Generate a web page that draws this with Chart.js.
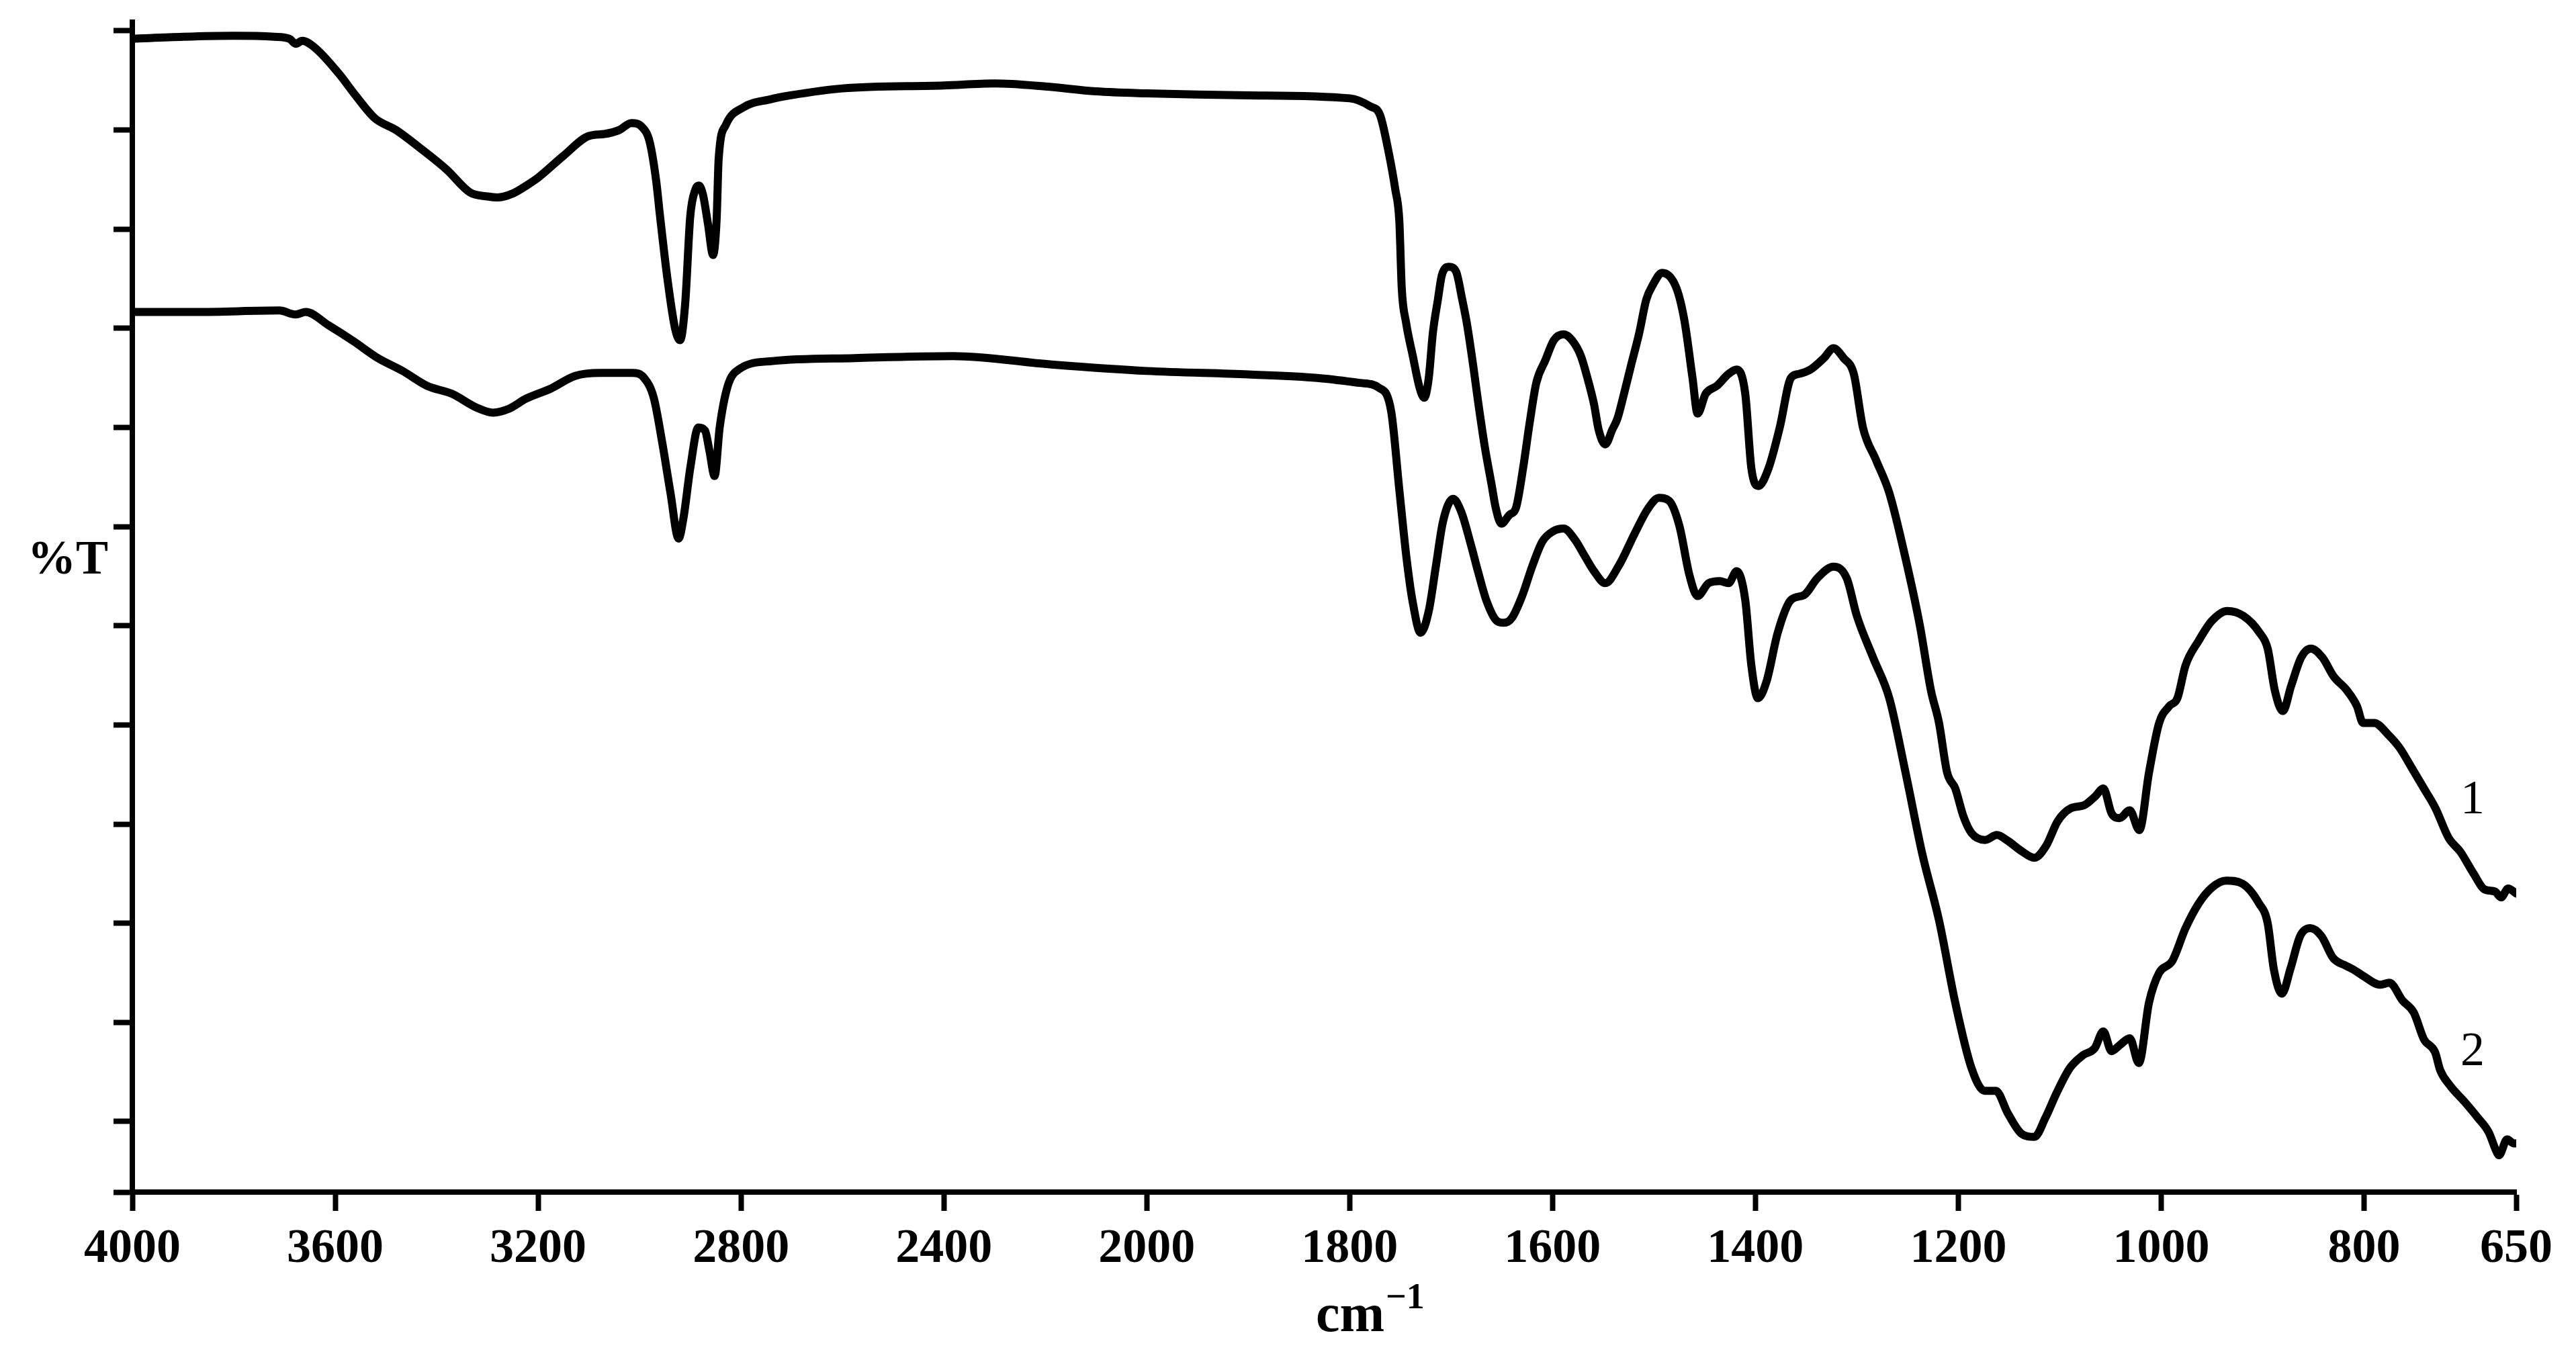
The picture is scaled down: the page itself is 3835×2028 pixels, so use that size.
<!DOCTYPE html>
<html>
<head>
<meta charset="utf-8">
<title>IR spectra</title>
<script src="https://cdn.jsdelivr.net/npm/chart.js@4.4.1/dist/chart.umd.min.js"></script>
<style>
  html, body { margin: 0; padding: 0; background: #fff; }
  #wrap { width: 3835px; height: 2028px; }
</style>
</head>
<body>
<div id="wrap"><canvas id="irChart" width="3835" height="2028"></canvas></div>
<script>
// wavenumber ticks (cm-1), axis is compressed 2x above 2000
const xTicks = [4000, 3600, 3200, 2800, 2400, 2000, 1800, 1600, 1400, 1200, 1000, 800, 650];
const yTicks = [10, 20, 30, 40, 50, 60, 70, 80, 90, 100, 110, 120];
const seriesNames = ['1', '2'];

// spectrum 1 (upper)
const wn1 = [4000, 3900, 3800, 3720, 3690, 3678, 3665, 3640, 3593, 3560, 3522, 3480, 3433, 3380, 3334, 3300, 3280, 3250, 3220, 3200,
  3150, 3100, 3069, 3040, 3016, 2995, 2980, 2967, 2960, 2945, 2930, 2920, 2910, 2900, 2890, 2883, 2875, 2865, 2855, 2848,
  2844, 2830, 2795, 2742, 2702, 2600, 2400, 2300, 2200, 2100, 2000, 1900, 1800, 1780, 1770, 1762, 1755, 1751, 1748.6, 1744.4,
  1737.7, 1731, 1726.5, 1722, 1718, 1713, 1709, 1702, 1695, 1689, 1684.6, 1678, 1673.5, 1667, 1660, 1656, 1650.5, 1642.4, 1636, 1629,
  1622.5, 1616, 1607, 1598.7, 1589, 1580.8, 1572, 1565.6, 1559, 1554.6, 1548, 1541, 1536, 1530, 1523, 1514.6, 1507.6, 1501, 1492, 1478,
  1470, 1462, 1457, 1449, 1438, 1426.5, 1418.5, 1410, 1404, 1397, 1387, 1376, 1365, 1357, 1345.6, 1332.5, 1323, 1313, 1303, 1294,
  1281, 1268, 1252, 1238, 1227, 1219, 1211, 1203, 1195, 1187, 1173.5, 1162, 1151, 1138, 1125, 1113.5, 1102, 1089, 1076, 1065,
  1057, 1049, 1041, 1031, 1021.5, 1012, 1002, 992, 984, 976, 963, 950, 935, 919, 903, 895, 888, 880, 872, 862,
  852.5, 841, 830, 817, 807, 801, 790, 776, 765, 752, 741, 729.6, 716.6, 705, 692, 681, 671, 665, 658, 650];
const t1 = [119.2, 119.4, 119.5, 119.4, 119.2, 118.7, 119.0, 118.3, 115.7, 113.5, 111.2, 110.0, 108.2, 106.0, 103.7, 103.3, 103.2, 103.6, 104.5, 105.2,
  107.4, 109.4, 109.6, 110.0, 110.7, 110.3, 108.8, 104.8, 101.5, 95, 90, 88.8, 92.5, 101.3, 104, 104.4, 103.5, 100.5, 97.4, 101,
  107.1, 110.5, 112.3, 113.1, 113.5, 114.2, 114.5, 114.7, 114.4, 113.9, 113.7, 113.5, 113.2, 112.4, 111.5, 108, 104, 100.8, 94, 90.6,
  87.2, 84, 83.0, 85, 89.5, 92.9, 95.4, 96.2, 95.7, 92.9, 90.6, 86.1, 82.7, 78.2, 74.2, 71.9, 70.3, 71.2, 71.9, 75.9,
  80.5, 84.5, 86.8, 88.8, 89.4, 88.8, 87.2, 85, 82.3, 79.8, 78.3, 79.8, 80.9, 83.2, 86.1, 89.5, 92.9, 94.4, 95.6, 94.1,
  90.8, 85.0, 81.4, 83.4, 84.2, 85.4, 85.85, 83.4, 75.9, 74.1, 75.9, 80, 85, 85.4, 85.85, 87, 88.0, 87.0, 85.4, 80,
  76.7, 73.4, 66.8, 60.1, 53.5, 50.2, 45.2, 43.6, 40.8, 39.1, 38.4, 38.9, 38.3, 37.3, 36.6, 37.8, 40.3, 41.6, 41.9, 42.8,
  43.6, 41.1, 40.6, 41.4, 39.4, 45.2, 50.2, 51.9, 52.7, 56.0, 58.5, 60.5, 61.5, 61.0, 59.3, 57.7, 53.5, 51.4, 53.9, 56.8,
  57.7, 56.8, 54.9, 53.5, 51.9, 50.2, 50.2, 49.0, 47.7, 45.5, 43.6, 41.6, 38.6, 37.2, 35.0, 33.4, 33.2, 32.6, 33.5, 33.0];

// spectrum 2 (lower)
const wn2 = [4000, 3872, 3710, 3678, 3658, 3613, 3564, 3516, 3467, 3419, 3370, 3321, 3289, 3257, 3224, 3176, 3127, 3078, 3014, 2991,
  2972, 2955, 2939, 2923, 2913, 2900, 2884, 2871, 2862, 2852, 2842, 2826, 2803, 2738, 2576, 2382, 2188, 2000, 1900, 1832,
  1790, 1771, 1759, 1751, 1744, 1738, 1730, 1722, 1715, 1708, 1698, 1690, 1680, 1673.5, 1665, 1655, 1648, 1640, 1630, 1620,
  1610, 1600, 1589, 1578, 1568, 1559, 1548, 1535, 1519, 1506, 1495, 1485, 1475, 1465, 1457, 1446, 1435, 1426.5, 1418.5, 1410,
  1404, 1397.5, 1389, 1378, 1365, 1352, 1339, 1323, 1310, 1300, 1284, 1268, 1252, 1235.5, 1219, 1203, 1187, 1174, 1163, 1151,
  1138, 1125, 1114, 1103, 1090, 1077, 1065.5, 1057, 1049, 1041, 1031, 1022, 1012, 1002, 989, 976, 963, 950, 936, 920,
  903.5, 895, 889, 881, 872.6, 863, 853, 842, 830.5, 817.6, 810, 801, 784, 775, 762, 751, 741, 730, 725, 715,
  701, 688, 677, 670, 667, 659, 652.3, 650];
const t2 = [91.65, 91.65, 91.8, 91.4, 91.65, 90.3, 88.7, 87.0, 85.7, 84.2, 83.4, 82.0, 81.5, 81.9, 82.9, 83.9, 85.2, 85.5, 85.5, 85.0,
  83.0, 78.4, 73.4, 68.8, 71.0, 75.9, 80.0, 79.7, 77.6, 75.1, 80.0, 84.2, 85.9, 86.7, 87.0, 87.2, 86.35, 85.7, 85.35, 85.0,
  84.5, 84.0, 81.6, 73.7, 66.9, 62.5, 59.3, 61.5, 66, 70.5, 72.8, 71.5, 68, 65.5, 62.5, 60.5, 60.3, 60.8, 63, 66,
  68.5, 69.5, 69.8, 68.7, 67, 65.5, 64.3, 66.0, 69.3, 71.8, 72.9, 72.6, 70.1, 65.1, 63.0, 64.3, 64.5, 64.3, 65.5, 62.6,
  56.0, 52.7, 54.4, 59.3, 62.6, 63.1, 64.8, 65.96, 64.8, 61.0, 56.8, 52.7, 45.2, 37.0, 30.3, 22.0, 15.4, 13.1, 13.1, 10.8,
  8.8, 8.45, 10.4, 12.9, 15.4, 16.7, 17.4, 19.1, 17.1, 17.7, 18.4, 15.9, 22.0, 25.0, 26.2, 29.5, 32.0, 33.6, 34.3, 34.0,
  32.0, 30.0, 25.4, 22.9, 25.4, 28.7, 29.5, 28.7, 26.5, 25.7, 25.3, 24.7, 23.8, 24.0, 22.2, 21.0, 18.3, 17.0, 15.2, 13.6,
  12.0, 10.4, 8.9, 7.1, 6.6, 8.2, 7.8, 7.8];

// x axis: 4000-2000 at half the scale of 2000-650
class BrokenAxis extends Chart.LinearScale {
  static id = 'broken';
  static defaults = Chart.LinearScale.defaults;
  getPixelForValue(value) {
    const u = value >= 2000 ? (4000 - value) / 2 : 1000 + (2000 - value);
    return this.getPixelForDecimal(u / 2350);
  }
}
Chart.register(BrokenAxis);

const serif = '"Liberation Serif", "Times New Roman", serif';

const textPlugin = {
  id: 'irText',
  afterDraw(chart) {
    const { ctx, scales } = chart;
    const x = scales.x, y = scales.y;
    ctx.save();
    ctx.fillStyle = '#000';
    ctx.textAlign = 'center';
    ctx.textBaseline = 'middle';
    ctx.font = 'bold 72px ' + serif;
    ctx.fillText('%T', x.left - 96, y.getPixelForValue(66.5));

    ctx.font = '72px ' + serif;
    ctx.fillText(seriesNames[0], x.getPixelForValue(693), y.getPixelForValue(42.4));
    ctx.fillText(seriesNames[1], x.getPixelForValue(693), y.getPixelForValue(17.0));

    // axis title cm^-1
    ctx.textAlign = 'left';
    ctx.textBaseline = 'alphabetic';
    ctx.font = 'bold 80px ' + serif;
    const cmW = ctx.measureText('cm').width;
    const cx = 2010 - cmW / 2;
    ctx.fillText('cm', cx, 1982);
    ctx.font = 'bold 54px ' + serif;
    ctx.fillText('\u22121', cx + cmW + 2, 1948);
    ctx.restore();
  }
};

const lineStyle = {
  borderColor: '#000',
  borderWidth: 12,
  pointRadius: 0,
  fill: false,
  cubicInterpolationMode: 'monotone',
  borderJoinStyle: 'round',
  borderCapStyle: 'round'
};

new Chart(document.getElementById('irChart'), {
  type: 'line',
  data: {
    datasets: [
      Object.assign({ label: seriesNames[0], data: wn1.map((w, i) => ({ x: w, y: t1[i] })) }, lineStyle),
      Object.assign({ label: seriesNames[1], data: wn2.map((w, i) => ({ x: w, y: t2[i] })) }, lineStyle)
    ]
  },
  options: {
    responsive: false,
    devicePixelRatio: 1,
    animation: false,
    events: [],
    layout: { padding: { left: 0, top: 33, right: 89, bottom: 0 } },
    plugins: { legend: { display: false }, tooltip: { enabled: false } },
    scales: {
      x: {
        type: 'broken',
        min: 650,
        max: 4000,
        afterBuildTicks: (scale) => { scale.ticks = xTicks.map(v => ({ value: v })); },
        afterFit: (scale) => { scale.height = 253; },
        border: { display: true, color: '#000', width: 8 },
        grid: { drawOnChartArea: false, drawTicks: true, tickLength: 28, tickWidth: 8, tickColor: '#000' },
        ticks: {
          autoSkip: false,
          maxRotation: 0,
          padding: 14,
          color: '#000',
          font: { family: serif, size: 72, weight: 'bold' },
          callback: (v) => String(v)
        }
      },
      y: {
        type: 'linear',
        min: 2.886,
        max: 120.88,
        afterBuildTicks: (scale) => { scale.ticks = [2.886].concat(yTicks).map(v => ({ value: v })); },
        afterFit: (scale) => { scale.width = 197; },
        border: { display: true, color: '#000', width: 8 },
        grid: { drawOnChartArea: false, drawTicks: true, tickLength: 28, tickWidth: 8, tickColor: '#000' },
        ticks: { display: false }
      }
    }
  },
  plugins: [textPlugin]
});
</script>
</body>
</html>
